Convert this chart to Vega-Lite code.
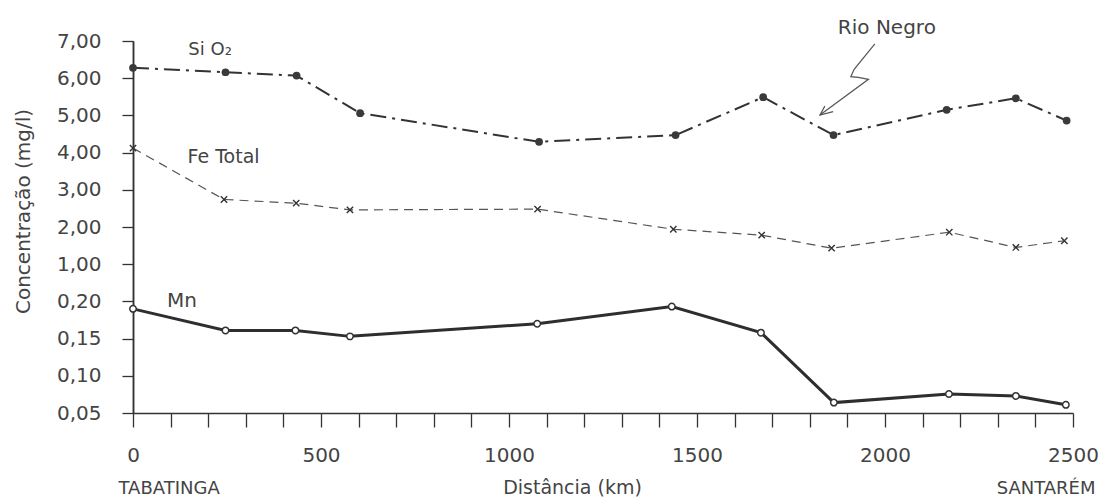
{
  "$schema": "https://vega.github.io/schema/vega-lite/v6.json",
  "width": 940,
  "height": 372,
  "autosize": "none",
  "padding": {"left": 133, "top": 41, "right": 41, "bottom": 86},
  "background": "white",
  "config": {
    "view": {"stroke": null},
    "axis": {
      "grid": false,
      "labelFont": "DejaVu Sans",
      "labelFontSize": 20,
      "labelColor": "#444",
      "titleFont": "DejaVu Sans",
      "titleFontSize": 20,
      "titleColor": "#444",
      "titleFontWeight": "normal",
      "domainColor": "#333",
      "domainWidth": 1.5,
      "tickColor": "#333",
      "tickWidth": 1.3
    }
  },
  "datasets": {
    "conc": [
      {"serie": "SiO2", "km": 0, "val": 6.28},
      {"serie": "SiO2", "km": 246, "val": 6.16},
      {"serie": "SiO2", "km": 435, "val": 6.07},
      {"serie": "SiO2", "km": 604, "val": 5.06},
      {"serie": "SiO2", "km": 1080, "val": 4.29},
      {"serie": "SiO2", "km": 1443, "val": 4.47},
      {"serie": "SiO2", "km": 1676, "val": 5.49},
      {"serie": "SiO2", "km": 1863, "val": 4.47},
      {"serie": "SiO2", "km": 2164, "val": 5.15},
      {"serie": "SiO2", "km": 2348, "val": 5.46},
      {"serie": "SiO2", "km": 2483, "val": 4.86},
      {"serie": "Fe", "km": 0, "val": 4.12},
      {"serie": "Fe", "km": 242, "val": 2.74},
      {"serie": "Fe", "km": 434, "val": 2.64},
      {"serie": "Fe", "km": 577, "val": 2.46},
      {"serie": "Fe", "km": 1076, "val": 2.48},
      {"serie": "Fe", "km": 1437, "val": 1.94},
      {"serie": "Fe", "km": 1672, "val": 1.78},
      {"serie": "Fe", "km": 1858, "val": 1.43},
      {"serie": "Fe", "km": 2171, "val": 1.86},
      {"serie": "Fe", "km": 2348, "val": 1.45},
      {"serie": "Fe", "km": 2477, "val": 1.63},
      {"serie": "Mn", "km": 0, "val": 0.19},
      {"serie": "Mn", "km": 246, "val": 0.161},
      {"serie": "Mn", "km": 432, "val": 0.161},
      {"serie": "Mn", "km": 577, "val": 0.153},
      {"serie": "Mn", "km": 1075, "val": 0.17},
      {"serie": "Mn", "km": 1433, "val": 0.193},
      {"serie": "Mn", "km": 1670, "val": 0.158},
      {"serie": "Mn", "km": 1864, "val": 0.064},
      {"serie": "Mn", "km": 2170, "val": 0.0755},
      {"serie": "Mn", "km": 2348, "val": 0.073},
      {"serie": "Mn", "km": 2481, "val": 0.061}
    ],
    "labels": [
      {"txt": "Si O₂", "km": 205, "val": 6.76, "grp": "upper", "fs": "a"},
      {"txt": "Fe Total", "km": 241, "val": 3.89, "grp": "upper", "fs": "b"},
      {"txt": "Rio Negro", "km": 2005, "val": 7.34, "grp": "upper", "fs": "c"},
      {"txt": "Mn", "km": 130, "val": 0.2, "grp": "lower", "fs": "b"}
    ],
    "arrow": [
      {"seg": "s", "ord": 1, "km": 1973, "val": 6.92},
      {"seg": "s", "ord": 2, "km": 1918, "val": 6.24},
      {"seg": "s", "ord": 3, "km": 1909, "val": 6.04},
      {"seg": "s", "ord": 4, "km": 1929, "val": 6.02},
      {"seg": "s", "ord": 5, "km": 1956, "val": 5.97},
      {"seg": "s", "ord": 6, "km": 1827, "val": 5.01},
      {"seg": "h", "ord": 1, "km": 1840, "val": 5.25},
      {"seg": "h", "ord": 2, "km": 1827, "val": 5.01},
      {"seg": "h", "ord": 3, "km": 1862, "val": 5.1}
    ],
    "ends": [
      {"km": 0, "nome": "TABATINGA"},
      {"km": 2500, "nome": "SANTARÉM"}
    ]
  },
  "layer": [
    {
      "data": {"name": "conc"},
      "transform": [{"filter": "datum.serie == 'SiO2'"}],
      "mark": {"type": "line", "color": "#333", "strokeWidth": 2, "strokeDash": [16, 6, 3, 6]},
      "encoding": {
        "x": {
          "field": "km", "type": "quantitative",
          "scale": {"domain": [0, 2500], "nice": false, "zero": false},
          "axis": {
            "orient": "bottom",
            "values": [0, 100, 200, 300, 400, 500, 600, 700, 800, 900, 1000, 1100, 1200, 1300, 1400, 1500, 1600, 1700, 1800, 1900, 2000, 2100, 2200, 2300, 2400, 2500],
            "format": "d",
            "labelExpr": "datum.value % 500 == 0 ? datum.label : ''",
            "tickSize": 14,
            "labelPadding": 18,
            "labelFlush": false,
            "labelOverlap": false,
            "title": "Distância (km)",
            "titleX": 439,
            "titleY": 65,
            "titleFontSize": 19,
            "titleBaseline": "top"
          }
        },
        "y": {
          "field": "val", "type": "quantitative",
          "scale": {"domain": [-3, 7], "nice": false, "zero": false},
          "axis": {
            "orient": "left",
            "values": [1, 2, 3, 4, 5, 6, 7],
            "labelExpr": "replace(format(datum.value, '.2f'), '.', ',')",
            "tickSize": 11,
            "labelPadding": 21,
            "labelFlush": false,
            "labelOverlap": false,
            "title": "Concentração (mg/l)",
            "titleX": -100,
            "titleY": 170
          }
        }
      }
    },
    {
      "data": {"name": "conc"},
      "transform": [{"filter": "datum.serie == 'SiO2'"}],
      "mark": {"type": "point", "shape": "circle", "filled": true, "color": "#3a3a3a", "size": 60, "opacity": 1},
      "encoding": {
        "x": {"field": "km", "type": "quantitative", "scale": {"domain": [0, 2500], "nice": false, "zero": false}, "axis": null},
        "y": {"field": "val", "type": "quantitative", "scale": {"domain": [-3, 7], "nice": false, "zero": false}, "axis": null}
      }
    },
    {
      "data": {"name": "conc"},
      "transform": [{"filter": "datum.serie == 'Fe'"}],
      "mark": {"type": "line", "color": "#555", "strokeWidth": 1.2, "strokeDash": [9, 6]},
      "encoding": {
        "x": {"field": "km", "type": "quantitative", "scale": {"domain": [0, 2500], "nice": false, "zero": false}, "axis": null},
        "y": {"field": "val", "type": "quantitative", "scale": {"domain": [-3, 7], "nice": false, "zero": false}, "axis": null}
      }
    },
    {
      "data": {"name": "conc"},
      "transform": [{"filter": "datum.serie == 'Fe'"}],
      "mark": {"type": "point", "shape": "M-1,-1L1,1M1,-1L-1,1", "filled": false, "color": "#333", "strokeWidth": 1.4, "size": 40, "opacity": 1},
      "encoding": {
        "x": {"field": "km", "type": "quantitative", "scale": {"domain": [0, 2500], "nice": false, "zero": false}, "axis": null},
        "y": {"field": "val", "type": "quantitative", "scale": {"domain": [-3, 7], "nice": false, "zero": false}, "axis": null}
      }
    },
    {
      "data": {"name": "conc"},
      "transform": [{"filter": "datum.serie == 'Mn'"}],
      "mark": {"type": "line", "color": "#2e2e2e", "strokeWidth": 3},
      "encoding": {
        "x": {"field": "km", "type": "quantitative", "scale": {"domain": [0, 2500], "nice": false, "zero": false}, "axis": null},
        "y": {
          "field": "val", "type": "quantitative",
          "scale": {"domain": [0.05, 0.55], "nice": false, "zero": false},
          "axis": {
            "orient": "left",
            "values": [0.05, 0.1, 0.15, 0.2],
            "labelExpr": "replace(format(datum.value, '.2f'), '.', ',')",
            "tickSize": 11,
            "labelPadding": 21,
            "labelFlush": false,
            "labelOverlap": false,
            "title": null
          }
        }
      }
    },
    {
      "data": {"name": "conc"},
      "transform": [{"filter": "datum.serie == 'Mn'"}],
      "mark": {"type": "point", "shape": "circle", "filled": true, "fill": "white", "stroke": "#333", "strokeWidth": 1.5, "size": 42, "opacity": 1},
      "encoding": {
        "x": {"field": "km", "type": "quantitative", "scale": {"domain": [0, 2500], "nice": false, "zero": false}, "axis": null},
        "y": {"field": "val", "type": "quantitative", "scale": {"domain": [0.05, 0.55], "nice": false, "zero": false}, "axis": null}
      }
    },
    {
      "data": {"name": "arrow"},
      "mark": {"type": "line", "color": "#555", "strokeWidth": 1.2},
      "encoding": {
        "x": {"field": "km", "type": "quantitative", "scale": {"domain": [0, 2500], "nice": false, "zero": false}, "axis": null},
        "y": {"field": "val", "type": "quantitative", "scale": {"domain": [-3, 7], "nice": false, "zero": false}, "axis": null},
        "detail": {"field": "seg"},
        "order": {"field": "ord"}
      }
    },
    {
      "data": {"name": "labels"},
      "transform": [{"filter": "datum.grp == 'upper'"}],
      "mark": {"type": "text", "align": "center", "baseline": "middle", "font": "DejaVu Sans", "color": "#444"},
      "encoding": {
        "x": {"field": "km", "type": "quantitative", "scale": {"domain": [0, 2500], "nice": false, "zero": false}, "axis": null},
        "y": {"field": "val", "type": "quantitative", "scale": {"domain": [-3, 7], "nice": false, "zero": false}, "axis": null},
        "text": {"field": "txt"},
        "size": {"field": "fs", "type": "nominal", "scale": {"domain": ["a", "b", "c"], "range": [18, 20, 17]}, "legend": null}
      }
    },
    {
      "data": {"name": "labels"},
      "transform": [{"filter": "datum.grp == 'lower'"}],
      "mark": {"type": "text", "align": "center", "baseline": "middle", "font": "DejaVu Sans", "color": "#444", "fontSize": 20},
      "encoding": {
        "x": {"field": "km", "type": "quantitative", "scale": {"domain": [0, 2500], "nice": false, "zero": false}, "axis": null},
        "y": {"field": "val", "type": "quantitative", "scale": {"domain": [0.05, 0.55], "nice": false, "zero": false}, "axis": null},
        "text": {"field": "txt"}
      }
    },
    {
      "data": {"name": "ends"},
      "mark": {"type": "point", "opacity": 0},
      "encoding": {
        "x": {
          "field": "km", "type": "quantitative",
          "scale": {"domain": [0, 2500], "nice": false, "zero": false},
          "axis": {
            "orient": "bottom",
            "values": [0, 2500],
            "labelExpr": "datum.value == 0 ? 'TABATINGA' : 'SANTARÉM'",
            "labelAlign": {"condition": {"test": "datum.value == 0", "value": "left"}, "value": "right"},
            "labelOffset": {"condition": {"test": "datum.value == 0", "value": -15}, "value": 22},
            "domain": false,
            "ticks": false,
            "tickSize": 0,
            "labelPadding": 66,
            "labelFlush": false,
            "labelOverlap": false,
            "labelFontSize": 18,
            "title": null
          }
        }
      }
    }
  ],
  "resolve": {
    "scale": {"x": "independent", "y": "independent"},
    "axis": {"x": "independent", "y": "independent"}
  }
}
